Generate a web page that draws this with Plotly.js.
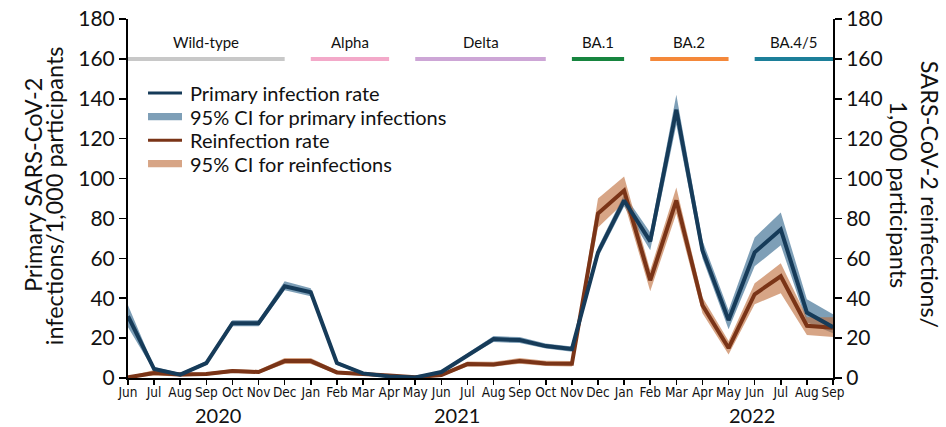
<!DOCTYPE html>
<html>
<head>
<meta charset="utf-8">
<script src="https://cdn.plot.ly/plotly-3.0.1.min.js"></script>
<style>
  html, body { margin: 0; padding: 0; background: #ffffff; }
  #chart { width: 946px; height: 427px; }
</style>
</head>
<body>
<div id="chart"></div>
<script>
// ---------------- DATA ----------------
const months = ['Jun','Jul','Aug','Sep','Oct','Nov','Dec','Jan','Feb','Mar','Apr','May',
                'Jun','Jul','Aug','Sep','Oct','Nov','Dec','Jan','Feb','Mar','Apr','May',
                'Jun','Jul','Aug','Sep'];
const years = ['2020', '2021', '2022'];

const primaryRate  = [31, 4.5, 1.7, 7.5, 27.5, 27.5, 46, 43, 7.5, 2.3, 0.8, 0.3,
                      3, 11.5, 19.5, 19, 16, 14.5, 63, 89, 68.5, 134.5, 64, 29,
                      63, 74.5, 32.8, 25.5];
const primaryLower = [25.5, 3.5, 1, 6.5, 26, 26, 44, 41, 6.5, 1.7, 0.4, 0,
                      2.3, 10.5, 18, 17.5, 14.8, 13.2, 60.5, 86, 64, 127, 60, 24.5,
                      56, 66.5, 28, 22.5];
const primaryUpper = [36.5, 5.5, 2.5, 8.5, 29, 29, 48.5, 45, 8.5, 3, 1.2, 0.6,
                      3.8, 12.5, 21, 20.5, 17.3, 15.8, 65.5, 92, 73, 142, 69, 34,
                      70.5, 83, 39.5, 32];

const reinfRate  = [0.3, 2.5, 1.7, 2, 3.5, 3, 8.5, 8.5, 2.8, 1.8, 1.2, 0.4,
                    1.5, 7, 6.8, 8.5, 7.3, 7.1, 82.5, 94, 49, 89, 36.5, 15,
                    42, 51, 26.2, 25.2];
const reinfLower = [0, 1.3, 0.8, 1.2, 2.5, 2.2, 7, 7, 2, 1.1, 0.6, 0.1,
                    0.8, 5.8, 5.6, 7.2, 6, 5.8, 75.5, 88, 43.5, 82.5, 32.5, 11.8,
                    37, 42.5, 21.5, 20.5];
const reinfUpper = [0.8, 4, 2.7, 2.8, 4.5, 4, 10, 10, 3.8, 2.5, 1.8, 0.8,
                    2.2, 8.3, 8.2, 10, 8.7, 8.5, 90, 101, 54, 95.5, 40.5, 18.5,
                    47.5, 57.5, 30.5, 30.5];

const variantNames  = ['Wild-type', 'Alpha', 'Delta', 'BA.1', 'BA.2', 'BA.4/5'];
const variantStart  = [0, 7, 11, 17, 20, 24];   // month index
const variantEnd    = [6, 10, 16, 19, 23, 27];  // month index

const legendNames = ['Primary infection rate', '95% CI for primary infections',
                     'Reinfection rate', '95% CI for reinfections'];

// ---------------- STYLE ----------------
const variantColors = ['#c8c8c8', '#f3a9c9', '#cda6d6', '#17853f', '#f4883a', '#1c7f99'];
const VARIANT_LEVEL = 160;
const mainFont = 'Lato, "Open Sans", sans-serif';
const narrowFont = '"Liberation Sans Narrow", "DejaVu Sans Condensed", Lato, sans-serif';
const primaryLine = '#163b59', reinfLine = '#7a3417';
const primaryFill = 'rgba(40,95,135,0.6)', reinfFill = 'rgba(190,110,60,0.62)';

const idx = months.map((m, i) => i);
const idxRev = idx.slice().reverse();

const traces = [];

// CI bands
traces.push({
  x: idx.concat(idxRev),
  y: primaryUpper.concat(primaryLower.slice().reverse()),
  type: 'scatter', mode: 'lines', fill: 'toself',
  fillcolor: primaryFill, line: {width: 0, color: 'rgba(0,0,0,0)'},
  name: legendNames[1], hoverinfo: 'skip'
});
traces.push({
  x: idx.concat(idxRev),
  y: reinfUpper.concat(reinfLower.slice().reverse()),
  type: 'scatter', mode: 'lines', fill: 'toself',
  fillcolor: reinfFill, line: {width: 0, color: 'rgba(0,0,0,0)'},
  name: legendNames[3], hoverinfo: 'skip'
});
// Rate lines
traces.push({
  x: idx, y: reinfRate, type: 'scatter', mode: 'lines',
  line: {color: reinfLine, width: 4}, name: legendNames[2]
});
traces.push({
  x: idx, y: primaryRate, type: 'scatter', mode: 'lines',
  line: {color: primaryLine, width: 4}, name: legendNames[0]
});

// Variant period bars
variantNames.forEach((v, i) => {
  traces.push({
    x: [variantStart[i], variantEnd[i]],
    y: [VARIANT_LEVEL, VARIANT_LEVEL],
    type: 'scatter', mode: 'lines',
    line: {color: variantColors[i], width: 4},
    hoverinfo: 'skip', cliponaxis: false
  });
});

// Invisible trace for right axis
traces.push({
  x: [0], y: [0], yaxis: 'y2', type: 'scatter', mode: 'markers',
  marker: {opacity: 0}, hoverinfo: 'skip'
});

const annotations = [];
const shapes = [];
variantNames.forEach((v, i) => {
  annotations.push({
    x: (variantStart[i] + variantEnd[i]) / 2, y: 168.5, xref: 'x', yref: 'y',
    text: v, showarrow: false, xanchor: 'center', yanchor: 'middle',
    font: {family: mainFont, size: 15, color: '#111'}
  });
});
const yearPos = [3.45, 12.6, 23.9];
years.forEach((y, i) => {
  annotations.push({
    x: yearPos[i], y: -0.103, xref: 'x', yref: 'paper',
    text: y, showarrow: false, xanchor: 'center', yanchor: 'middle',
    font: {family: mainFont, size: 20, color: '#111'}
  });
});
// Axis titles (each line placed separately for tight line spacing)
const titleFont = {family: mainFont, size: 23.5, color: '#111'};
[['Primary SARS-CoV-2', -0.135, 0.537], ['infections/1,000 participants', -0.105, 0.509]]
  .forEach(t => annotations.push({x: t[1], y: t[2], xref: 'paper', yref: 'paper', text: t[0],
    textangle: -90, showarrow: false, xanchor: 'center', yanchor: 'middle', font: titleFont}));
[['SARS-CoV-2 reinfections/', 1.1376, 0.513], ['1,000 participants', 1.0936, 0.509]]
  .forEach(t => annotations.push({x: t[1], y: t[2], xref: 'paper', yref: 'paper', text: t[0],
    textangle: 90, showarrow: false, xanchor: 'center', yanchor: 'middle', font: titleFont}));

// Legend (drawn manually for tight row spacing)
const legRows = [0.7936, 0.7280, 0.6625, 0.5969];
const legKinds = [
  {type: 'line', color: primaryLine},
  {type: 'rect', color: primaryFill},
  {type: 'line', color: reinfLine},
  {type: 'rect', color: reinfFill}
];
legKinds.forEach((k, i) => {
  const yc = legRows[i];
  if (k.type === 'line') {
    shapes.push({type: 'line', xref: 'paper', yref: 'paper', x0: 0.0284, x1: 0.0766,
      y0: yc, y1: yc, line: {color: k.color, width: 3}});
  } else {
    const h = 3.6 / 358.5;
    shapes.push({type: 'rect', xref: 'paper', yref: 'paper', x0: 0.0284, x1: 0.0766,
      y0: yc - h, y1: yc + h, fillcolor: k.color, line: {width: 0}});
  }
  annotations.push({x: 0.0851, y: yc, xref: 'paper', yref: 'paper', text: legendNames[i],
    showarrow: false, xanchor: 'left', yanchor: 'middle',
    font: {family: mainFont, size: 20, color: '#111'}});
});

const layout = {
  width: 946, height: 427,
  margin: {l: 128, r: 113, t: 19, b: 49, pad: 0},
  paper_bgcolor: '#ffffff', plot_bgcolor: '#ffffff',
  showlegend: false,
  xaxis: {
    range: [0, 27], tickmode: 'array', tickvals: idx, ticktext: months,
    showgrid: false, zeroline: false, showline: true, linecolor: '#000', linewidth: 2,
    ticks: 'outside', ticklen: 5, tickwidth: 1.5, tickcolor: '#000',
    ticklabelstandoff: -4,
    tickfont: {family: narrowFont, size: 13.5, color: '#111'}, tickangle: 0
  },
  yaxis: {
    range: [0, 180], tickvals: [0,20,40,60,80,100,120,140,160,180],
    showgrid: false, zeroline: false, showline: true, linecolor: '#000', linewidth: 2,
    ticks: 'outside', ticklen: 7, tickwidth: 1.5, tickcolor: '#000',
    tickfont: {family: mainFont, size: 21, color: '#111'}
  },
  yaxis2: {
    range: [0, 180], tickvals: [0,20,40,60,80,100,120,140,160,180],
    overlaying: 'y', side: 'right',
    showgrid: false, zeroline: false, showline: true, linecolor: '#000', linewidth: 2,
    ticks: 'outside', ticklen: 7, tickwidth: 1.5, tickcolor: '#000',
    tickfont: {family: mainFont, size: 21, color: '#111'}
  },
  annotations: annotations,
  shapes: shapes,
  hovermode: false
};

Plotly.newPlot('chart', traces, layout, {staticPlot: true, displayModeBar: false});
</script>
</body>
</html>
